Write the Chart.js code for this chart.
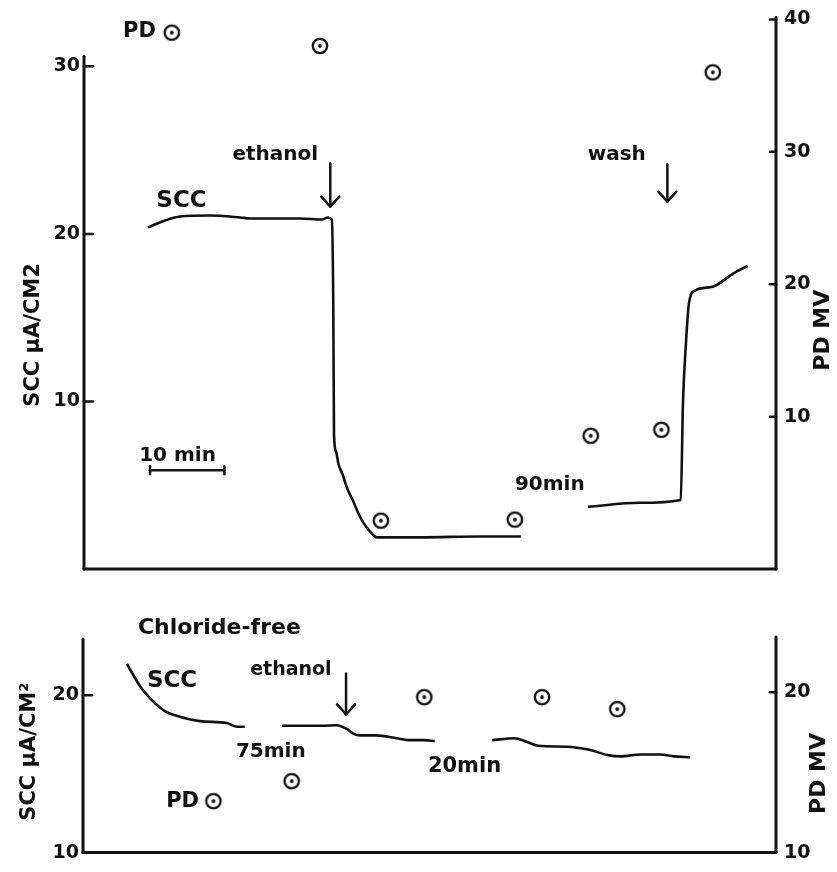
<!DOCTYPE html>
<html>
<head>
<meta charset="utf-8">
<script src="https://cdn.jsdelivr.net/npm/chart.js@4.4.1/dist/chart.umd.min.js"></script>
<style>
  body { margin: 0; background: #fff; }
  canvas { position: absolute; left: 0; }
</style>
</head>
<body>
<canvas id="topChart" width="837" height="590" style="top:0"></canvas>
<canvas id="bottomChart" width="837" height="282" style="top:590px"></canvas>
<script>
// Top panel: SCC trace (minutes, uA/cm2), null = break in the record
const topSccMin = [8.6, 10.9, 12.9, 16.9, 21.0, 22.3, 26.3, 29.0, 32.0, 32.8, 33.3, 33.5, 33.6, 33.87, 34.21, 34.74, 35.35, 36.16, 36.83, 37.63, 38.44, 39.38,
                   45.2, 53.2, 58.7,
                   63, 67.7, 74.7, 80.2, 80.5, 80.9, 81.3, 82.1, 84.5, 87.2, 89.2];
const topSccVal = [20.39, 20.80, 21.04, 21.10, 20.98, 20.92, 20.92, 20.92, 20.86, 20.98, 20.86, 15.85, 8.01, 7.01, 6.25, 5.66, 4.83, 4.07, 3.36, 2.71, 2.24, 1.89,
                   1.89, 1.94, 1.94,
                   null, 3.71, 3.95, 4.12, 9.96, 13.49, 15.85, 16.62, 16.85, 17.62, 18.09];
// Top panel: PD readings (mV)
const topPdMin = [11.8, 31.7, 39.9, 57.9, 68.1, 77.6, 84.5];
const topPdVal = [39.0, 38.0, 2.15, 2.23, 8.56, 9.01, 36.0];

// Bottom panel (chloride-free)
const botSccMin = [5.9, 6.85, 7.8, 8.86, 9.93, 11.1, 12.35, 15.7, 19.3, 20.7, 21.7,
                   24.6, 26.7, 32.1, 34.05, 35.4, 36.2, 37.2, 39.3, 42.1, 43.6, 45.8, 47.2,
                   51, 54.9, 57.9, 59.6, 61.1, 65.0, 67.8, 70.6, 72.1, 74.9, 77.4, 79.3, 81.5];
const botSccVal = [22.0, 21.21, 20.48, 19.88, 19.39, 18.97, 18.73, 18.36, 18.24, 18.0, 18.0,
                   null, 18.06, 18.06, 18.1, 17.86, 17.58, 17.45, 17.45, 17.27, 17.15, 17.15, 17.09,
                   null, 17.15, 17.27, 17.03, 16.79, 16.73, 16.55, 16.18, 16.12, 16.24, 16.24, 16.12, 16.06];
const botPdMin = [17.5, 28.0, 45.8, 61.6, 71.7];
const botPdVal = [13.21, 14.46, 19.70, 19.70, 18.95];

// tick labels
const topLeftTicks = [10, 20, 30];
const topRightTicks = [10, 20, 30, 40];
const botLeftTicks = [10, 20];
const botRightTicks = [10, 20];

const ink = '#111';
const face = '"DejaVu Sans", sans-serif';

// the ring-with-dot marker used for PD
function ringMarker() {
    const c = document.createElement('canvas');
    c.width = 20;
    c.height = 20;
    const g = c.getContext('2d');
    g.strokeStyle = ink;
    g.lineWidth = 2.3;
    g.beginPath();
    g.arc(10, 10, 7.2, 0, Math.PI * 2);
    g.stroke();
    g.fillStyle = ink;
    g.beginPath();
    g.arc(10, 10, 1.9, 0, Math.PI * 2);
    g.fill();
    return c;
}
const marker = ringMarker();

function points(xs, ys) {
    return xs.map((x, i) => ({ x: x, y: ys[i] }));
}

// axes drawn by hand-ish, plus the lettering of the figure
const extras = {
    id: 'extras',
    afterDraw(chart, args, opts) {
        const ctx = chart.ctx;
        const { x, yl, yr } = chart.scales;
        const area = chart.chartArea;
        const seg = (x1, y1, x2, y2) => {
            ctx.beginPath();
            ctx.moveTo(x1, y1);
            ctx.lineTo(x2, y2);
            ctx.stroke();
        };
        ctx.save();
        ctx.strokeStyle = ink;
        ctx.fillStyle = ink;
        ctx.lineWidth = 3;
        ctx.lineCap = 'round';
        ctx.lineJoin = 'round';

        seg(area.left, yl.getPixelForValue(opts.leftTop), area.left, area.bottom);
        seg(area.right, area.top - 2, area.right, area.bottom);
        seg(area.left, area.bottom, area.right, area.bottom);
        ctx.lineWidth = 2.5;
        yl.ticks.forEach(t => {
            const p = yl.getPixelForValue(t.value);
            seg(area.left, p, area.left + 9, p);
        });
        yr.ticks.forEach(t => {
            const p = yr.getPixelForValue(t.value);
            seg(area.right - 6, p, area.right, p);
        });

        // arrows: [minute, from, to] in left axis units
        opts.arrows.forEach(a => {
            const px = x.getPixelForValue(a[0]);
            const p1 = yl.getPixelForValue(a[1]);
            const p2 = yl.getPixelForValue(a[2]);
            seg(px, p1, px, p2);
            ctx.beginPath();
            ctx.moveTo(px - 9, p2 - 10);
            ctx.lineTo(px, p2);
            ctx.lineTo(px + 9, p2 - 10);
            ctx.stroke();
        });

        // time scale bar
        if (opts.bar) {
            const b = opts.bar;
            const a1 = x.getPixelForValue(b[0]);
            const a2 = x.getPixelForValue(b[1]);
            const py = yl.getPixelForValue(b[2]);
            seg(a1, py, a2, py);
            seg(a1, py - 4, a1, py + 4);
            seg(a2, py - 4, a2, py + 4);
        }

        ctx.textAlign = 'center';
        ctx.textBaseline = 'middle';
        opts.notes.forEach(n => {
            ctx.font = 'bold ' + n[3] + 'px ' + face;
            ctx.fillText(n[0], x.getPixelForValue(n[1]), yl.getPixelForValue(n[2]));
        });

        // rotated axis titles, reading upward on both sides
        opts.titles.forEach(t => {
            const scale = chart.scales[t[1]];
            ctx.save();
            ctx.translate(t[2], scale.getPixelForValue(t[3]));
            ctx.rotate(-Math.PI / 2);
            ctx.font = 'bold ' + t[4] + 'px ' + face;
            ctx.fillText(t[0], 0, 0);
            ctx.restore();
        });
        ctx.restore();
    }
};

function makeChart(id, o) {
    const tickFont = { family: face, size: 19, weight: 'bold' };
    return new Chart(id, {
        type: 'scatter',
        data: {
            datasets: [{
                label: 'SCC',
                data: points(o.sccMin, o.sccVal),
                yAxisID: 'yl',
                showLine: true,
                spanGaps: false,
                borderColor: ink,
                borderWidth: 2.6,
                pointRadius: 0,
                cubicInterpolationMode: 'monotone'
            }, {
                label: 'PD',
                data: points(o.pdMin, o.pdVal),
                yAxisID: 'yr',
                pointStyle: marker,
                pointRadius: 8
            }]
        },
        options: {
            responsive: false,
            animation: false,
            devicePixelRatio: 1,
            layout: { padding: { top: o.top, left: 0, right: 0, bottom: 0 } },
            plugins: {
                legend: { display: false },
                tooltip: { enabled: false },
                extras: o.extras
            },
            scales: {
                x: {
                    min: 0,
                    max: 93,
                    grid: { display: false, drawTicks: false },
                    border: { display: false },
                    ticks: { display: false },
                    afterFit: s => { s.height = o.xHeight; }
                },
                yl: {
                    position: 'left',
                    min: o.leftMin,
                    max: o.leftMax,
                    grid: { display: false, drawTicks: false },
                    border: { display: false },
                    ticks: { color: ink, font: tickFont, padding: 4 },
                    afterBuildTicks: s => { s.ticks = o.leftTicks.map(v => ({ value: v })); },
                    afterFit: s => { s.width = o.leftWidth; }
                },
                yr: {
                    position: 'right',
                    min: o.rightMin,
                    max: o.rightMax,
                    grid: { display: false, drawTicks: false },
                    border: { display: false },
                    ticks: { color: ink, font: tickFont, padding: 8 },
                    afterBuildTicks: s => { s.ticks = o.rightTicks.map(v => ({ value: v })); },
                    afterFit: s => { s.width = 61; }
                }
            }
        },
        plugins: [extras]
    });
}

// Normal solution, ethanol then wash
makeChart('topChart', {
    sccMin: topSccMin, sccVal: topSccVal, pdMin: topPdMin, pdVal: topPdVal,
    leftTicks: topLeftTicks, rightTicks: topRightTicks,
    leftMin: 0, leftMax: 32.8, rightMin: -1.5, rightMax: 40,
    top: 12, xHeight: 21, leftWidth: 84,
    extras: {
        leftTop: 30.6,
        notes: [
            ['PD', 7.46, 32.09, 21],
            ['ethanol', 25.7, 24.69, 20],
            ['SCC', 13.1, 21.95, 23],
            ['wash', 71.6, 24.69, 20],
            ['10 min', 12.57, 6.75, 20],
            ['90min', 62.6, 5.04, 20]
        ],
        arrows: [[33.1, 24.22, 21.63], [78.4, 24.16, 21.92]],
        bar: [8.87, 18.87, 5.89],
        titles: [
            ['SCC µA/CM2', 'yl', 34, 13.97, 21],
            ['PD MV', 'yr', 823, 16.53, 22]
        ]
    }
});

// Chloride-free solution
makeChart('bottomChart', {
    sccMin: botSccMin, sccVal: botSccVal, pdMin: botPdMin, pdVal: botPdVal,
    leftTicks: botLeftTicks, rightTicks: botRightTicks,
    leftMin: 10, leftMax: 23.58, rightMin: 10, rightMax: 23.33,
    top: 49, xHeight: 9, leftWidth: 83,
    extras: {
        leftTop: 23.58,
        notes: [
            ['Chloride-free', 18.3, 24.24, 22],
            ['SCC', 11.95, 20.88, 23],
            ['ethanol', 27.9, 21.61, 19],
            ['75min', 25.2, 16.39, 20],
            ['20min', 51.2, 15.48, 21],
            ['PD', 13.36, 13.27, 21]
        ],
        arrows: [[35.3, 21.39, 18.79]],
        bar: null,
        titles: [
            ['SCC µA/CM²', 'yl', 30, 16.42, 21],
            ['PD MV', 'yr', 819, 14.94, 22]
        ]
    }
});
</script>
</body>
</html>
